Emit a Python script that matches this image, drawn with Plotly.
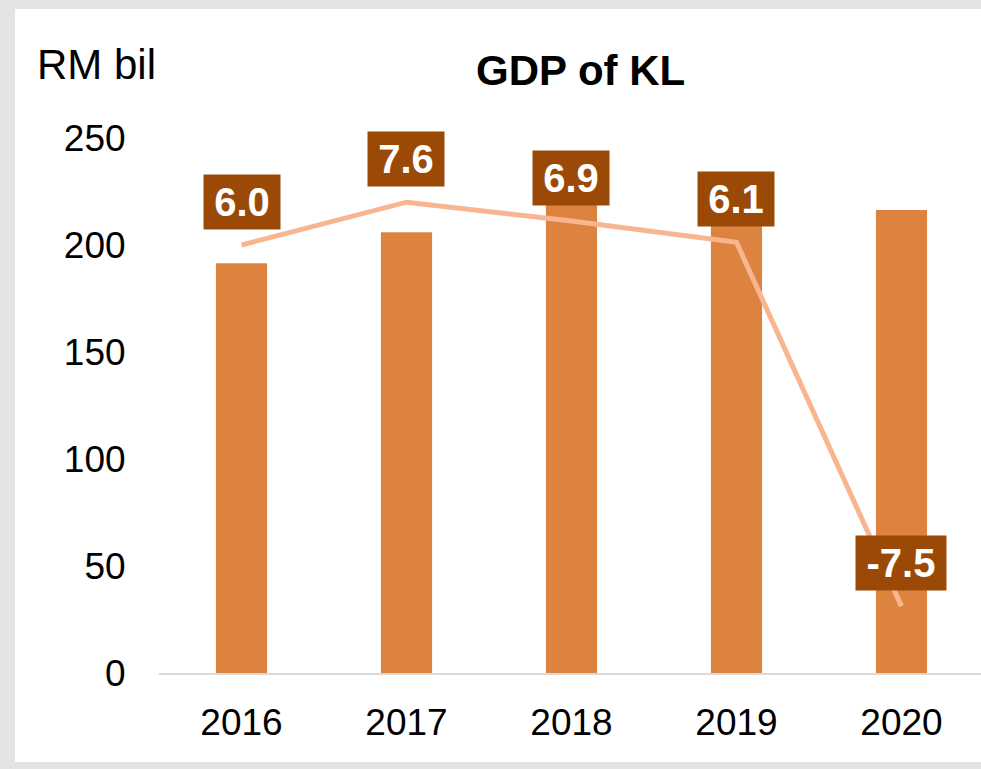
import plotly.graph_objects as go

years = ["2016", "2017", "2018", "2019", "2020"]
gdp = [191.5, 206.0, 220.0, 234.0, 216.3]
growth = [6.0, 7.6, 6.9, 6.1, -7.5]
growth_labels = ["6.0", "7.6", "6.9", "6.1", "-7.5"]
y_ticks = [0, 50, 100, 150, 200, 250]

W, H = 981, 769
L, R, T, B = 159, 0, 138, 96
pw, ph = W - L - R, H - T - B

def px_x(p):
    return (p - L) / pw

def px_y(p):
    return (H - B - p) / ph

FONT = "Liberation Sans, Arial, sans-serif"

fig = go.Figure()
fig.add_trace(go.Bar(
    x=years, y=gdp, marker=dict(color="#DC843F", line=dict(width=0)),
    yaxis="y", hoverinfo="skip"))
fig.add_trace(go.Scatter(
    x=years, y=growth, mode="lines", line=dict(color="#F9B590", width=5),
    yaxis="y2", hoverinfo="skip"))

annotations = []
for i, (g, lab) in enumerate(zip(growth, growth_labels)):
    annotations.append(dict(
        x=i, y=g, xref="x", yref="y2", text="<b>%s</b>" % lab,
        showarrow=False, yshift=43, yanchor="middle", xanchor="center",
        font=dict(family=FONT, size=40, color="white"),
        bgcolor="#9A4A06", borderpad=5,
        width=66 if len(lab) == 3 else 80))

annotations.append(dict(
    x=px_x(580), y=px_y(70), xref="paper", yref="paper",
    text="<b>GDP of KL</b>", showarrow=False, xanchor="center", yanchor="middle",
    font=dict(family=FONT, size=42, color="black")))
annotations.append(dict(
    x=px_x(35), y=px_y(65), xref="paper", yref="paper",
    text="RM bil", showarrow=False, xanchor="left", yanchor="middle",
    font=dict(family=FONT, size=42, color="black")))

fig.update_layout(
    width=W, height=H,
    margin=dict(l=L, r=R, t=T, b=B, pad=0),
    paper_bgcolor="#E3E4E6", plot_bgcolor="rgba(0,0,0,0)",
    showlegend=False, bargap=0.69,
    font=dict(family=FONT, size=37, color="black"),
    xaxis=dict(type="category", range=[-0.5, 4.482], showgrid=False,
               showline=True, linecolor="#D9D9D9", linewidth=2,
               ticks="outside", ticklen=16, tickcolor="rgba(0,0,0,0)",
               tickfont=dict(family=FONT, size=37, color="black"), zeroline=False),
    yaxis=dict(range=[0, 250], tickvals=y_ticks, showgrid=False, showline=False,
               zeroline=False, ticks="outside", ticklen=25,
               tickcolor="rgba(0,0,0,0)",
               tickfont=dict(family=FONT, size=37, color="black")),
    yaxis2=dict(range=[-10, 10], overlaying="y", side="right",
                showticklabels=False, showgrid=False, showline=False,
                zeroline=False, ticks=""),
    annotations=annotations,
    shapes=[dict(type="rect", xref="paper", yref="paper",
                 x0=px_x(15), x1=px_x(990), y0=px_y(762), y1=px_y(9),
                 fillcolor="white", line=dict(width=0), layer="below")],
)

fig.write_html("out.html", config={"displayModeBar": False},
               post_script="document.body.style.margin='0';document.body.style.overflow='hidden';")
